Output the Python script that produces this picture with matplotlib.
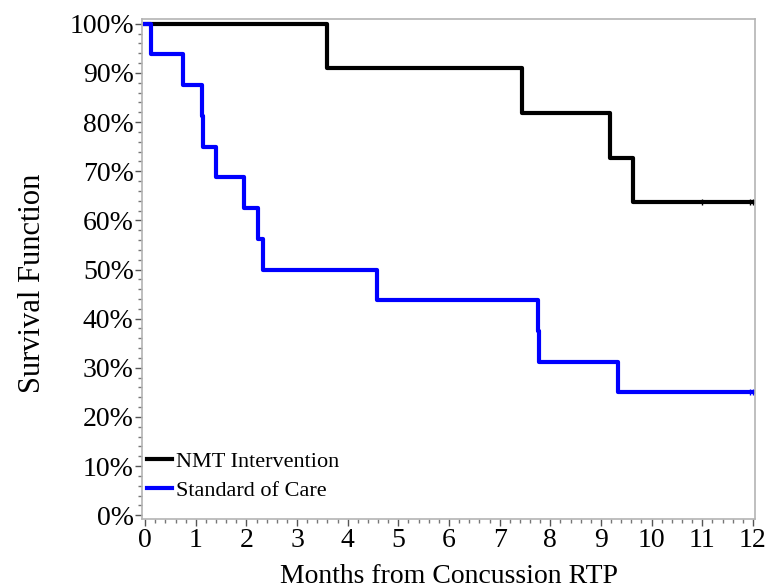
import matplotlib
matplotlib.use("Agg")
import matplotlib.pyplot as plt
from matplotlib.ticker import MultipleLocator, PercentFormatter

plt.rcParams['font.family'] = ['Liberation Serif', 'DejaVu Serif']

# Kaplan-Meier steps (months, survival fraction)
NMT_TIMES = [0.0, 3.60, 7.44, 9.18, 9.64, 12.0]
NMT_SURV = [1.0, 0.9091, 0.8182, 0.7273, 0.6364, 0.6364]
NMT_CENSOR = [11.0, 11.95, 12.0]

SOC_TIMES = [0.0, 0.12, 0.74, 1.13, 1.15, 1.39, 1.96, 2.22, 2.32, 4.57, 7.75, 7.78, 9.34, 12.0]
SOC_SURV = [1.0, 0.9375, 0.875, 0.8125, 0.75, 0.6875, 0.625, 0.5625, 0.5, 0.4375, 0.375, 0.3125, 0.25, 0.25]
SOC_CENSOR = [11.95, 12.0]

fig = plt.figure(figsize=(7.68, 5.88), dpi=100)
ax = fig.add_axes([0.185, 0.117, 0.798, 0.851])

ax.step(NMT_TIMES, NMT_SURV, where='post', color='black', lw=3, label='NMT Intervention')
ax.step(SOC_TIMES, SOC_SURV, where='post', color='#0000ff', lw=3, label='Standard of Care')
ax.plot(NMT_CENSOR, [NMT_SURV[-1]] * len(NMT_CENSOR), ls='none', marker='|', ms=5, mew=1, color='black')
ax.plot(SOC_CENSOR, [SOC_SURV[-1]] * len(SOC_CENSOR), ls='none', marker='|', ms=5, mew=1, color='#0000ff')

ax.set_xlim(-0.06, 12.04)
ax.set_ylim(-0.008, 1.01)
ax.xaxis.set_major_locator(MultipleLocator(1))
ax.xaxis.set_minor_locator(MultipleLocator(0.2))
ax.yaxis.set_major_locator(MultipleLocator(0.1))
ax.yaxis.set_minor_locator(MultipleLocator(0.02))
ax.yaxis.set_major_formatter(PercentFormatter(1.0, decimals=0))

for s in ax.spines.values():
    s.set_color('#b4b4b4')
    s.set_linewidth(1.2)
ax.tick_params(which='major', length=5, width=1, color='#555555', labelsize=20, pad=1)
ax.tick_params(which='minor', length=3, width=1, color='#777777')

ax.set_xlabel('Months from Concussion RTP', fontsize=20)
ax.set_ylabel('Survival Function', fontsize=22)
ax.xaxis.set_label_coords(0.5, -0.09)
ax.yaxis.set_label_coords(-0.155, 0.472)

ax.legend(loc='lower left', frameon=False, fontsize=16, handlelength=1.1,
          handletextpad=0.2, borderaxespad=0.1, labelspacing=0.35,
          bbox_to_anchor=(-0.01, 0.015))

fig.savefig('out.png', dpi=100)
